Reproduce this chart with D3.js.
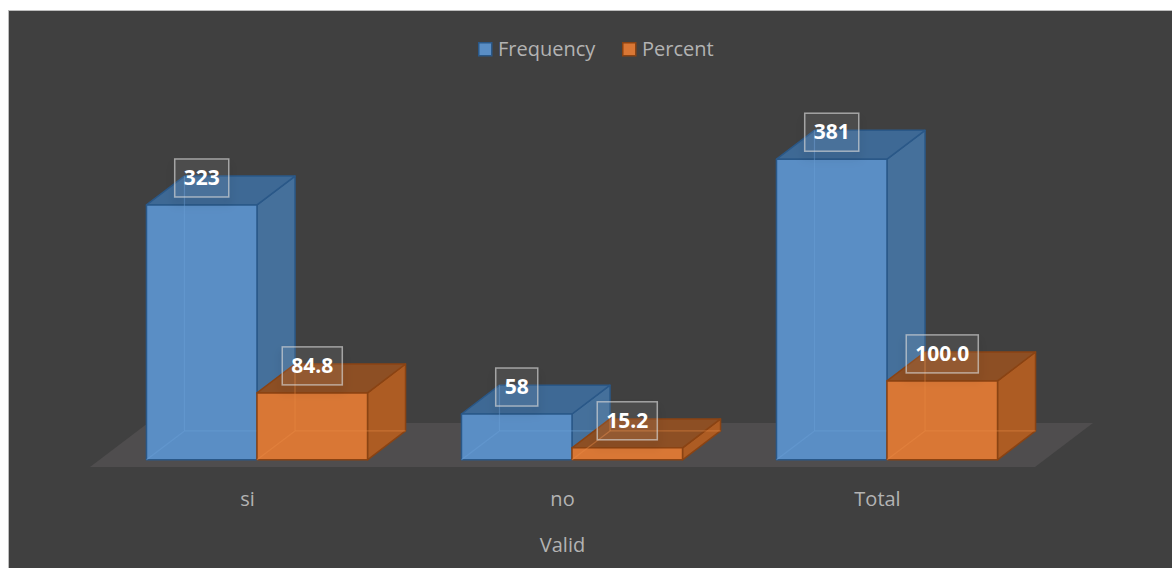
<!DOCTYPE html>
<html>
<head>
<meta charset="utf-8">
<script src="https://cdn.jsdelivr.net/npm/d3@7"></script>
<style>
  html, body { margin: 0; padding: 0; background: #ffffff; }
  svg { display: block; }
  text { font-family: "Open Sans", "Noto Sans", sans-serif; }
</style>
</head>
<body>
<svg id="chart" width="1172" height="568"></svg>
<script>
// Data
const categories = ["si", "no", "Total"];
const seriesNames = ["Frequency", "Percent"];
const frequency = [323, 58, 381];
const percent = [84.8, 15.2, 100.0];
const labelFormats = [d3.format("d"), d3.format(".1f")];
const axisTitle = "Valid";

const seriesValues = [frequency, percent];
const palette = {
  Frequency: { front: "#5a8ec5", side: "#45709b", top: "#3e6995", edge: "#2a5888", inner: "#6a9fd6" },
  Percent:   { front: "#d97735", side: "#ad5c23", top: "#8d4f24", edge: "#8a4313", inner: "#e88a45" }
};

const svg = d3.select("#chart");

// Panel
svg.append("rect")
  .attr("x", 8.5).attr("y", 10.5)
  .attr("width", 1172).attr("height", 600)
  .attr("fill", "#404040")
  .attr("stroke", "#bdbdbd").attr("stroke-width", 1);

// Oblique projection: world x, depth z, height h -> screen
const groundY = 467;
const depthSlope = 0.76;
const floorDepth = 58;
const barZ0 = 9.5, barZ1 = 47.5;
const P = (x, z, h) => [x + z, groundY - z * depthSlope - h];

const x0 = d3.scaleBand().domain(categories).range([90, 1035]).padding(0);
const x1 = d3.scaleBand().domain(seriesNames)
  .range([0, x0.bandwidth()]).paddingOuter(0.425).paddingInner(0);
const hScale = d3.scaleLinear().domain([0, 450]).range([0, 355]);

const line = d3.line();
const poly = pts => line(pts) + "Z";

// Floor
const fx0 = x0.range()[0], fx1 = x0.range()[1];
svg.append("path")
  .attr("d", poly([P(fx0, 0, 0), P(fx1, 0, 0), P(fx1, floorDepth, 0), P(fx0, floorDepth, 0)]))
  .attr("fill", "#4f4d4e");

// Label shadow
const defs = svg.append("defs");
const shadow = defs.append("filter").attr("id", "lblShadow")
  .attr("x", "-30%").attr("y", "-30%").attr("width", "160%").attr("height", "180%");
shadow.append("feDropShadow").attr("dx", 0).attr("dy", 6).attr("stdDeviation", 5)
  .attr("flood-color", "#000").attr("flood-opacity", 0.35);

const bars = [];
categories.forEach((c, ci) => {
  seriesNames.forEach((s, si) => {
    const v = seriesValues[si][ci];
    const xa = x0(c) + x1(s);
    const xb = xa + x1.bandwidth();
    bars.push({ c, s, si, v, xa, xb, h: hScale(v), label: labelFormats[si](v) });
  });
});

const gBars = svg.append("g");
bars.forEach(b => {
  const col = palette[b.s];
  const g = gBars.append("g");
  const { xa, xb, h } = b;
  // right side
  g.append("path")
    .attr("d", poly([P(xb, barZ0, 0), P(xb, barZ1, 0), P(xb, barZ1, h), P(xb, barZ0, h)]))
    .attr("fill", col.side).attr("stroke", col.edge).attr("stroke-width", 1.5)
    .attr("stroke-linejoin", "round");
  // top
  g.append("path")
    .attr("d", poly([P(xa, barZ0, h), P(xb, barZ0, h), P(xb, barZ1, h), P(xa, barZ1, h)]))
    .attr("fill", col.top).attr("stroke", col.edge).attr("stroke-width", 1.5)
    .attr("stroke-linejoin", "round");
  // front
  g.append("path")
    .attr("d", poly([P(xa, barZ0, 0), P(xb, barZ0, 0), P(xb, barZ0, h), P(xa, barZ0, h)]))
    .attr("fill", col.front).attr("stroke", col.edge).attr("stroke-width", 1.5)
    .attr("stroke-linejoin", "round");
  // hidden back edges showing through the translucent faces
  const hidden = [
    [P(xa, barZ1, 0), P(xa, barZ1, h)],
    [P(xa, barZ1, 0), P(xb, barZ1, 0)],
    [P(xa, barZ0, 0), P(xa, barZ1, 0)]
  ];
  hidden.forEach(seg => {
    g.append("path").attr("d", line(seg))
      .attr("stroke", col.inner).attr("stroke-opacity", 0.45)
      .attr("stroke-width", 1.2).attr("fill", "none");
  });
});

// Data labels
const gLabels = svg.append("g");
bars.forEach(b => {
  const cx = (b.xa + b.xb) / 2 + barZ0;
  const topY = P(b.xa, barZ0, b.h)[1];
  const t = gLabels.append("text")
    .attr("x", cx).attr("y", topY - 8 - 12)
    .attr("text-anchor", "middle")
    .attr("font-size", 21).attr("font-weight", 700)
    .attr("fill", "#ffffff")
    .text(b.label);
  const w = t.node().getComputedTextLength() + 18;
  gLabels.insert("rect", () => t.node())
    .attr("x", cx - w / 2).attr("y", topY - 8 - 38)
    .attr("width", w).attr("height", 38)
    .attr("fill", "rgba(255,255,255,0.05)")
    .attr("stroke", "rgba(215,215,215,0.65)").attr("stroke-width", 1.5)
    .attr("filter", "url(#lblShadow)");
});

// Category axis
const axis = d3.axisBottom(x0).tickSize(0).tickPadding(0);
const gAxis = svg.append("g").attr("transform", `translate(0, ${groundY + 24})`).call(axis);
gAxis.select(".domain").remove();
gAxis.selectAll("text")
  .attr("font-size", 20).attr("fill", "#b3b3b3")
  .attr("dy", "0.75em")
  .style("font-family", '"Open Sans", "Noto Sans", sans-serif');

svg.append("text")
  .attr("x", (fx0 + fx1) / 2).attr("y", 552)
  .attr("text-anchor", "middle")
  .attr("font-size", 20).attr("fill", "#b3b3b3")
  .text(axisTitle);

// Legend
const legend = svg.append("g");
const legendItems = [{ name: "Frequency", x: 478 }, { name: "Percent", x: 622 }];
legendItems.forEach(it => {
  const col = palette[it.name];
  legend.append("rect")
    .attr("x", it.x + 0.75).attr("y", 42.75)
    .attr("width", 13).attr("height", 13)
    .attr("fill", col.front).attr("stroke", col.edge).attr("stroke-width", 1.5);
  legend.append("text")
    .attr("x", it.x + 20).attr("y", 56)
    .attr("font-size", 20).attr("fill", "#b3b3b3")
    .text(it.name);
});
</script>
</body>
</html>
